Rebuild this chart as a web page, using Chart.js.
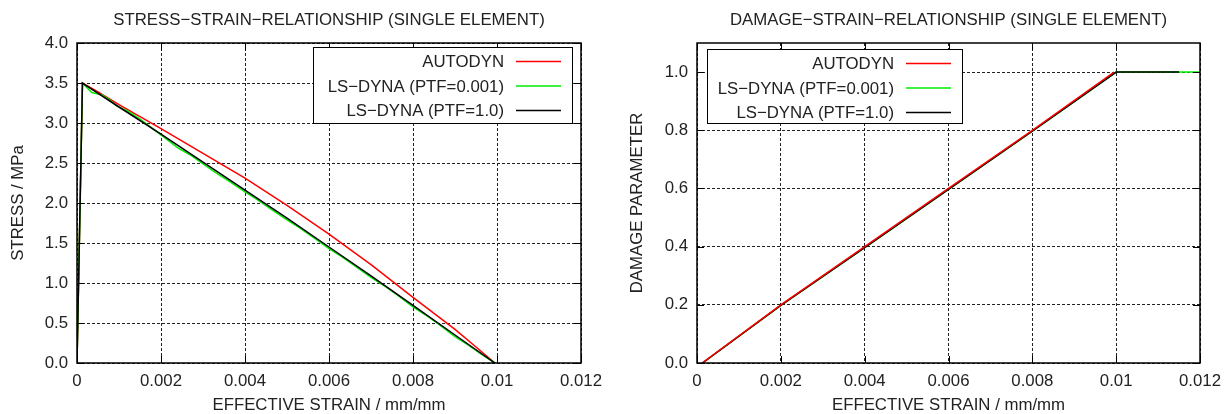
<!DOCTYPE html>
<html><head><meta charset="utf-8">
<script src="https://cdn.jsdelivr.net/npm/chart.js@4.4.1/dist/chart.umd.min.js"></script>
<style>
html,body{margin:0;padding:0;background:#fff;overflow:hidden}
#wrap{position:relative;width:1232px;height:414px}
canvas{position:absolute;top:0}
</style></head><body>
<div id="wrap">
<canvas id="c1" width="616" height="414" style="left:0px"></canvas>
<canvas id="c2" width="616" height="414" style="left:616px"></canvas>
</div>
<script>
// ---- tick definitions ----
const strainTicks = [0, 0.002, 0.004, 0.006, 0.008, 0.01, 0.012];
const strainTickLabels = ['0', '0.002', '0.004', '0.006', '0.008', '0.01', '0.012'];
const stressTicks = [0, 0.5, 1.0, 1.5, 2.0, 2.5, 3.0, 3.5, 4.0];
const stressTickLabels = ['0.0', '0.5', '1.0', '1.5', '2.0', '2.5', '3.0', '3.5', '4.0'];
const damageTicks = [0, 0.2, 0.4, 0.6, 0.8, 1.0];
const damageTickLabels = ['0.0', '0.2', '0.4', '0.6', '0.8', '1.0'];

// ---- series names / colours ----
const seriesNames = ['AUTODYN', 'LS\u2212DYNA (PTF=0.001)', 'LS\u2212DYNA (PTF=1.0)'];
const seriesColors = ['#ff0000', '#00ee00', '#000000'];

// ---- stress-strain ----
const autodynStressStrain = [0, 0.00013, 0.0005, 0.001, 0.0015, 0.002, 0.003, 0.004, 0.005, 0.006, 0.007, 0.008, 0.009, 0.0095, 0.00995];
const autodynStress       = [0, 3.50, 3.39, 3.23, 3.08, 2.93, 2.62, 2.31, 1.97, 1.61, 1.23, 0.82, 0.42, 0.20, 0.0];

const ptf001StressStrain = [0, 0.00013, 0.00035, 0.0006, 0.0008, 0.00095, 0.0012, 0.0015, 0.0018, 0.0021, 0.0024, 0.0027, 0.003, 0.0033, 0.0036, 0.004, 0.0043, 0.0046, 0.005, 0.0053, 0.0056, 0.006, 0.0063, 0.0066, 0.007, 0.0073, 0.0076, 0.008, 0.0083, 0.0086, 0.009, 0.0093, 0.0096, 0.00995];
const ptf001Stress       = [0, 3.50, 3.38, 3.35, 3.28, 3.21, 3.15, 3.05, 2.93, 2.81, 2.69, 2.60, 2.49, 2.38, 2.28, 2.14, 2.04, 1.93, 1.79, 1.69, 1.58, 1.43, 1.33, 1.22, 1.07, 0.97, 0.86, 0.70, 0.60, 0.49, 0.33, 0.23, 0.12, 0.0];

const ptf1StressStrain = [0, 0.00013, 0.001, 0.002, 0.003, 0.004, 0.005, 0.006, 0.007, 0.008, 0.009, 0.00995];
const ptf1Stress       = [0, 3.50, 3.20, 2.86, 2.51, 2.16, 1.81, 1.45, 1.09, 0.72, 0.35, 0.0];

// ---- damage-strain ----
const autodynDamageStrain = [0.00012, 0.002, 0.004, 0.006, 0.008, 0.00995];
const autodynDamage       = [0, 0.20, 0.40, 0.60, 0.80, 1.0];

const ptf001DamageStrain = [0.00013, 0.002, 0.004, 0.006, 0.008, 0.01, 0.0115, 0.012];
const ptf001Damage       = [0, 0.198, 0.397, 0.597, 0.797, 1.0, 1.0, 1.0];

const ptf1DamageStrain = [0.00013, 0.002, 0.004, 0.006, 0.008, 0.01, 0.0115];
const ptf1Damage       = [0, 0.198, 0.397, 0.597, 0.797, 1.0, 1.0];

const zip = (xs, ys) => xs.map((x, i) => ({x: x, y: ys[i]}));

Chart.defaults.font.family = '"Liberation Sans", Arial, Helvetica, sans-serif';
Chart.defaults.font.size = 16.8;
Chart.defaults.color = '#222';

const FONT = {family: '"Liberation Sans", Arial, Helvetica, sans-serif', size: 16.8};

const frameLegend = {
  id: 'frameLegend',
  afterDatasetsDraw(chart, args, opts) {
    const {ctx, chartArea: a, scales} = chart;
    ctx.save();
    ctx.strokeStyle = '#000';
    ctx.lineWidth = 1;
    const tl = 7;
    ctx.beginPath();
    scales.x.ticks.forEach(t => {
      const px = Math.round(scales.x.getPixelForValue(t.value)) + 0.5;
      ctx.moveTo(px, a.bottom); ctx.lineTo(px, a.bottom - tl);
      ctx.moveTo(px, a.top); ctx.lineTo(px, a.top + tl);
    });
    scales.y.ticks.forEach(t => {
      const py = Math.round(scales.y.getPixelForValue(t.value)) + 0.5;
      ctx.moveTo(a.left, py); ctx.lineTo(a.left + tl, py);
      ctx.moveTo(a.right, py); ctx.lineTo(a.right - tl, py);
    });
    ctx.stroke();
    ctx.lineWidth = 1.5;
    ctx.strokeRect(a.left, a.top, a.right - a.left, a.bottom - a.top);
    ctx.restore();
  },
  afterDraw(chart, args, opts) {
    const {ctx, chartArea: a} = chart;
    const w = opts.w, h = opts.h;
    const left = opts.corner === 'right' ? a.right - opts.dx - w : a.left + opts.dx;
    const top = a.top + opts.dy;
    ctx.save();
    ctx.fillStyle = '#fff';
    ctx.fillRect(left, top, w, h);
    ctx.strokeStyle = '#000';
    ctx.lineWidth = 1;
    ctx.strokeRect(Math.round(left) + 0.5, Math.round(top) + 0.5, w, h);
    ctx.font = FONT.size + 'px ' + FONT.family;
    ctx.textAlign = 'right';
    ctx.textBaseline = 'middle';
    for (let i = 0; i < seriesNames.length; i++) {
      const y = top + 14.5 + i * 24.5;
      ctx.fillStyle = '#222';
      ctx.fillText(seriesNames[i], left + w - 68, y + 1);
      ctx.strokeStyle = seriesColors[i];
      ctx.lineWidth = 1.5;
      ctx.beginPath();
      ctx.moveTo(left + w - 56, y);
      ctx.lineTo(left + w - 11, y);
      ctx.stroke();
    }
    ctx.restore();
  }
};

function makeChart(canvasId, cfg) {
  const ds = cfg.series.map((s, i) => ({
    label: seriesNames[i],
    data: zip(s[0], s[1]),
    borderColor: seriesColors[i],
    backgroundColor: seriesColors[i],
    borderWidth: 1.5,
    pointRadius: 0,
    fill: false,
    tension: 0,
    order: cfg.orders[i]
  }));
  return new Chart(document.getElementById(canvasId), {
    type: 'line',
    data: {datasets: ds},
    plugins: [frameLegend],
    options: {
      responsive: false,
      animation: false,
      devicePixelRatio: 1,
      parsing: true,
      layout: {padding: {left: 0, right: cfg.padRight, top: 0, bottom: 0}},
      plugins: {
        legend: {display: false},
        tooltip: {enabled: false},
        title: {
          display: true,
          text: cfg.title,
          fullSize: false,
          color: '#222',
          font: {size: 16.8, weight: 'normal', lineHeight: 1.2},
          padding: {top: 10, bottom: 12.84}
        },
        frameLegend: cfg.legend
      },
      scales: {
        x: {
          type: 'linear',
          min: 0, max: 0.012,
          afterFit: s => { s.height = 51; },
          afterBuildTicks: s => { s.ticks = strainTicks.map(v => ({value: v})); },
          ticks: {
            autoSkip: false, maxRotation: 0, minRotation: 0, padding: 8,
            color: '#222',
            callback: (v, i) => strainTickLabels[i]
          },
          grid: {color: '#222', lineWidth: 1, drawTicks: false},
          border: {display: false, dash: [3, 2]},
          title: {display: true, text: 'EFFECTIVE STRAIN / mm/mm', color: '#222',
                  font: {size: 16.8, lineHeight: 1}, padding: {top: 0, bottom: 0.6}}
        },
        y: {
          type: 'linear',
          min: cfg.yMin, max: cfg.yMax,
          afterFit: s => { s.width = cfg.yWidth; },
          afterBuildTicks: s => { s.ticks = cfg.yTicks.map(v => ({value: v})); },
          ticks: {
            autoSkip: false, padding: 9, color: '#222',
            callback: (v, i) => cfg.yTickLabels[i]
          },
          grid: {color: '#222', lineWidth: 1, drawTicks: false},
          border: {display: false, dash: [3, 2]},
          title: {display: true, text: cfg.yTitle, color: '#222',
                  font: {size: 16.8, lineHeight: 1}, padding: {top: cfg.yTitlePad, bottom: 0}}
        }
      }
    }
  });
}

makeChart('c1', {
  title: 'STRESS\u2212STRAIN\u2212RELATIONSHIP (SINGLE ELEMENT)',
  series: [[autodynStressStrain, autodynStress], [ptf001StressStrain, ptf001Stress], [ptf1StressStrain, ptf1Stress]],
  orders: [3, 2, 1],
  padRight: 35,
  yWidth: 77,
  yMin: 0, yMax: 4,
  yTicks: stressTicks, yTickLabels: stressTickLabels,
  yTitle: 'STRESS / MPa', yTitlePad: 9.6,
  legend: {corner: 'right', dx: 9, dy: 4, w: 259, h: 76}
});

makeChart('c2', {
  title: 'DAMAGE\u2212STRAIN\u2212RELATIONSHIP (SINGLE ELEMENT)',
  series: [[autodynDamageStrain, autodynDamage], [ptf001DamageStrain, ptf001Damage], [ptf1DamageStrain, ptf1Damage]],
  orders: [1, 3, 2],
  padRight: 32,
  yWidth: 81,
  yMin: 0, yMax: 1.1,
  yTicks: damageTicks, yTickLabels: damageTickLabels,
  yTitle: 'DAMAGE PARAMETER', yTitlePad: 12.6,
  legend: {corner: 'left', dx: 10, dy: 6, w: 255, h: 74}
});
</script>
</body></html>
